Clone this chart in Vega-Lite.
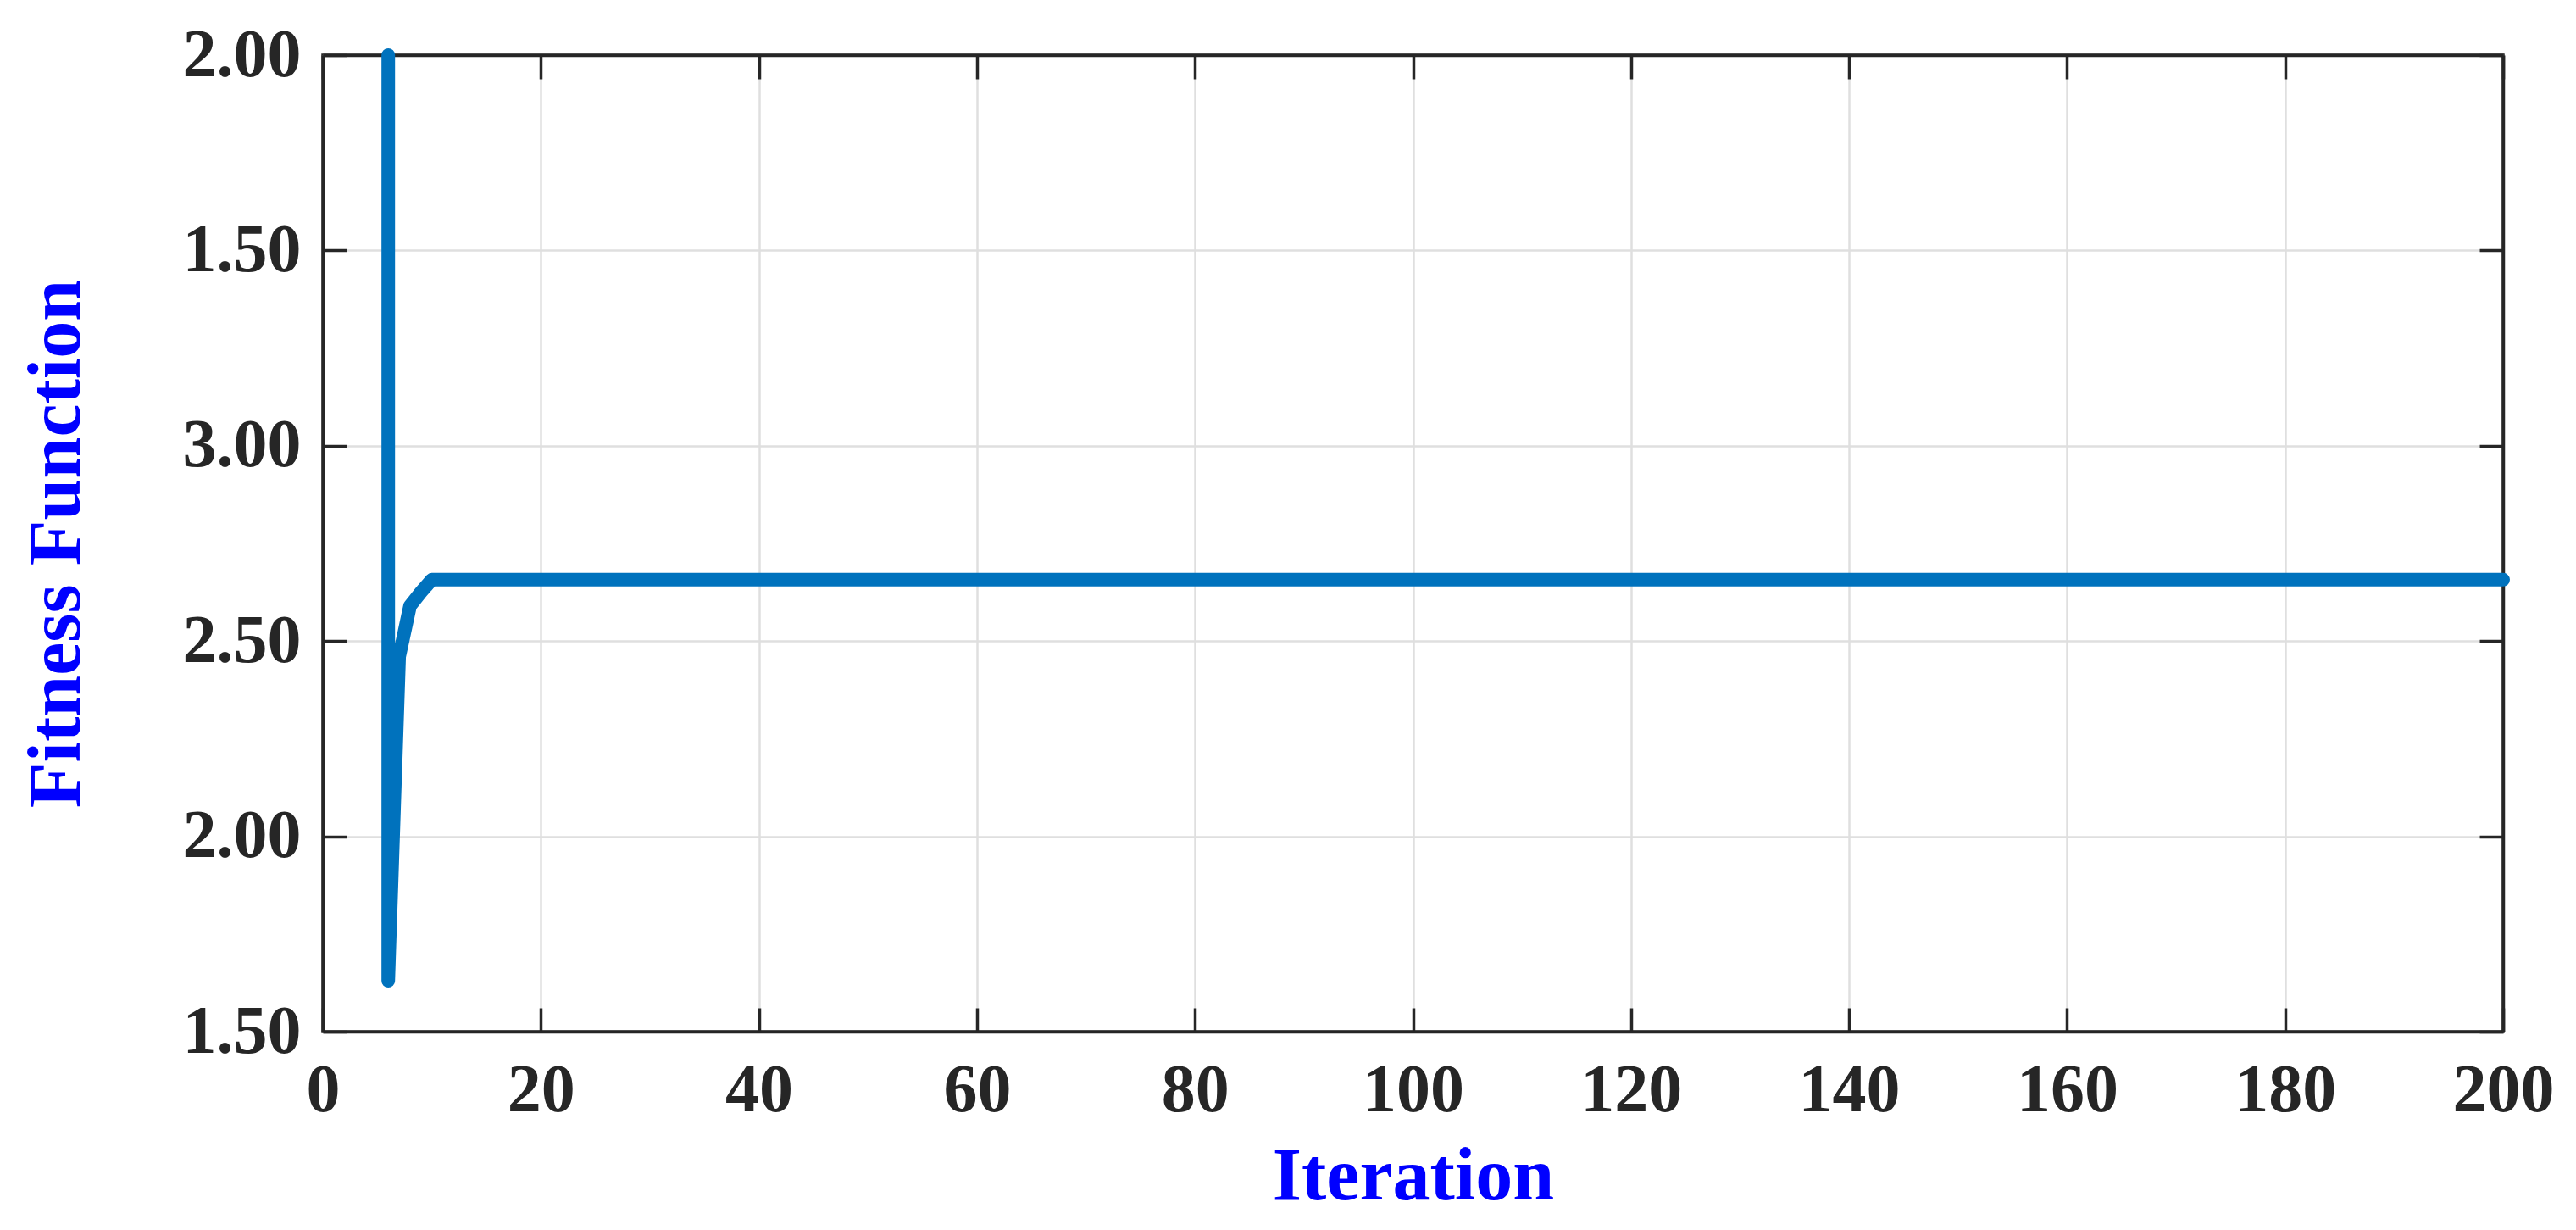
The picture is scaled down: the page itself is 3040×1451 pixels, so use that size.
{
  "$schema": "https://vega.github.io/schema/vega-lite/v6.json",
  "autosize": {"type": "none"},
  "padding": {"left": 381, "top": 65, "right": 86, "bottom": 234},
  "width": 2573,
  "height": 1152,
  "background": "white",
  "config": {
    "view": {"stroke": "#262626", "strokeWidth": 3.5},
    "axis": {
      "labelFont": "Liberation Serif",
      "labelFontWeight": "bold",
      "labelFontSize": 80,
      "labelColor": "#262626",
      "titleFont": "Liberation Serif",
      "titleFontWeight": "bold",
      "titleFontSize": 88,
      "titleColor": "#0000FF",
      "gridColor": "#dfdfdf",
      "gridWidth": 2.5,
      "gridOpacity": 1,
      "tickColor": "#262626",
      "tickWidth": 3.5,
      "tickSize": -28,
      "domain": true,
      "domainColor": "#262626",
      "domainWidth": 3.5
    }
  },
  "data": {
    "values": [
      {"step": 1, "iteration": 6, "fitness": 4.0},
      {"step": 2, "iteration": 6, "fitness": 1.63},
      {"step": 3, "iteration": 7, "fitness": 2.46},
      {"step": 4, "iteration": 8, "fitness": 2.59},
      {"step": 5, "iteration": 9, "fitness": 2.625},
      {"step": 6, "iteration": 10, "fitness": 2.657},
      {"step": 7, "iteration": 200, "fitness": 2.657}
    ]
  },
  "layer": [
    {
      "mark": {"type": "line", "color": "#0072BD", "strokeWidth": 16, "strokeCap": "round", "strokeJoin": "round", "clip": false},
      "encoding": {
        "x": {
          "field": "iteration", "type": "quantitative",
          "scale": {"domain": [0, 200], "nice": false, "zero": false},
          "axis": {"orient": "bottom", "title": "Iteration", "values": [0,20,40,60,80,100,120,140,160,180,200], "labelPadding": 58, "titlePadding": 18, "labelFlush": false, "labelOverlap": false}
        },
        "y": {
          "field": "fitness", "type": "quantitative",
          "scale": {"domain": [1.5, 4.0], "nice": false, "zero": false},
          "axis": {"orient": "left", "title": "Fitness Function", "values": [1.5,2.0,2.5,3.0,3.5,4.0],
            "labelExpr": "datum.value == 3.5 ? '1.50' : datum.value == 4 ? '2.00' : format(datum.value, '.2f')",
            "labelPadding": 54, "titlePadding": 104, "labelFlush": false, "labelOverlap": false}
        },
        "order": {"field": "step", "type": "quantitative"}
      }
    },
    {
      "mark": {"type": "line", "strokeOpacity": 0},
      "encoding": {
        "x": {
          "field": "iteration", "type": "quantitative",
          "scale": {"domain": [0, 200], "nice": false, "zero": false},
          "axis": {"orient": "top", "title": null, "labels": false, "grid": false, "values": [0,20,40,60,80,100,120,140,160,180,200]}
        },
        "y": {
          "field": "fitness", "type": "quantitative",
          "scale": {"domain": [1.5, 4.0], "nice": false, "zero": false},
          "axis": {"orient": "right", "title": null, "labels": false, "grid": false, "values": [1.5,2.0,2.5,3.0,3.5,4.0]}
        },
        "order": {"field": "step", "type": "quantitative"}
      }
    }
  ],
  "resolve": {"axis": {"x": "independent", "y": "independent"}}
}
